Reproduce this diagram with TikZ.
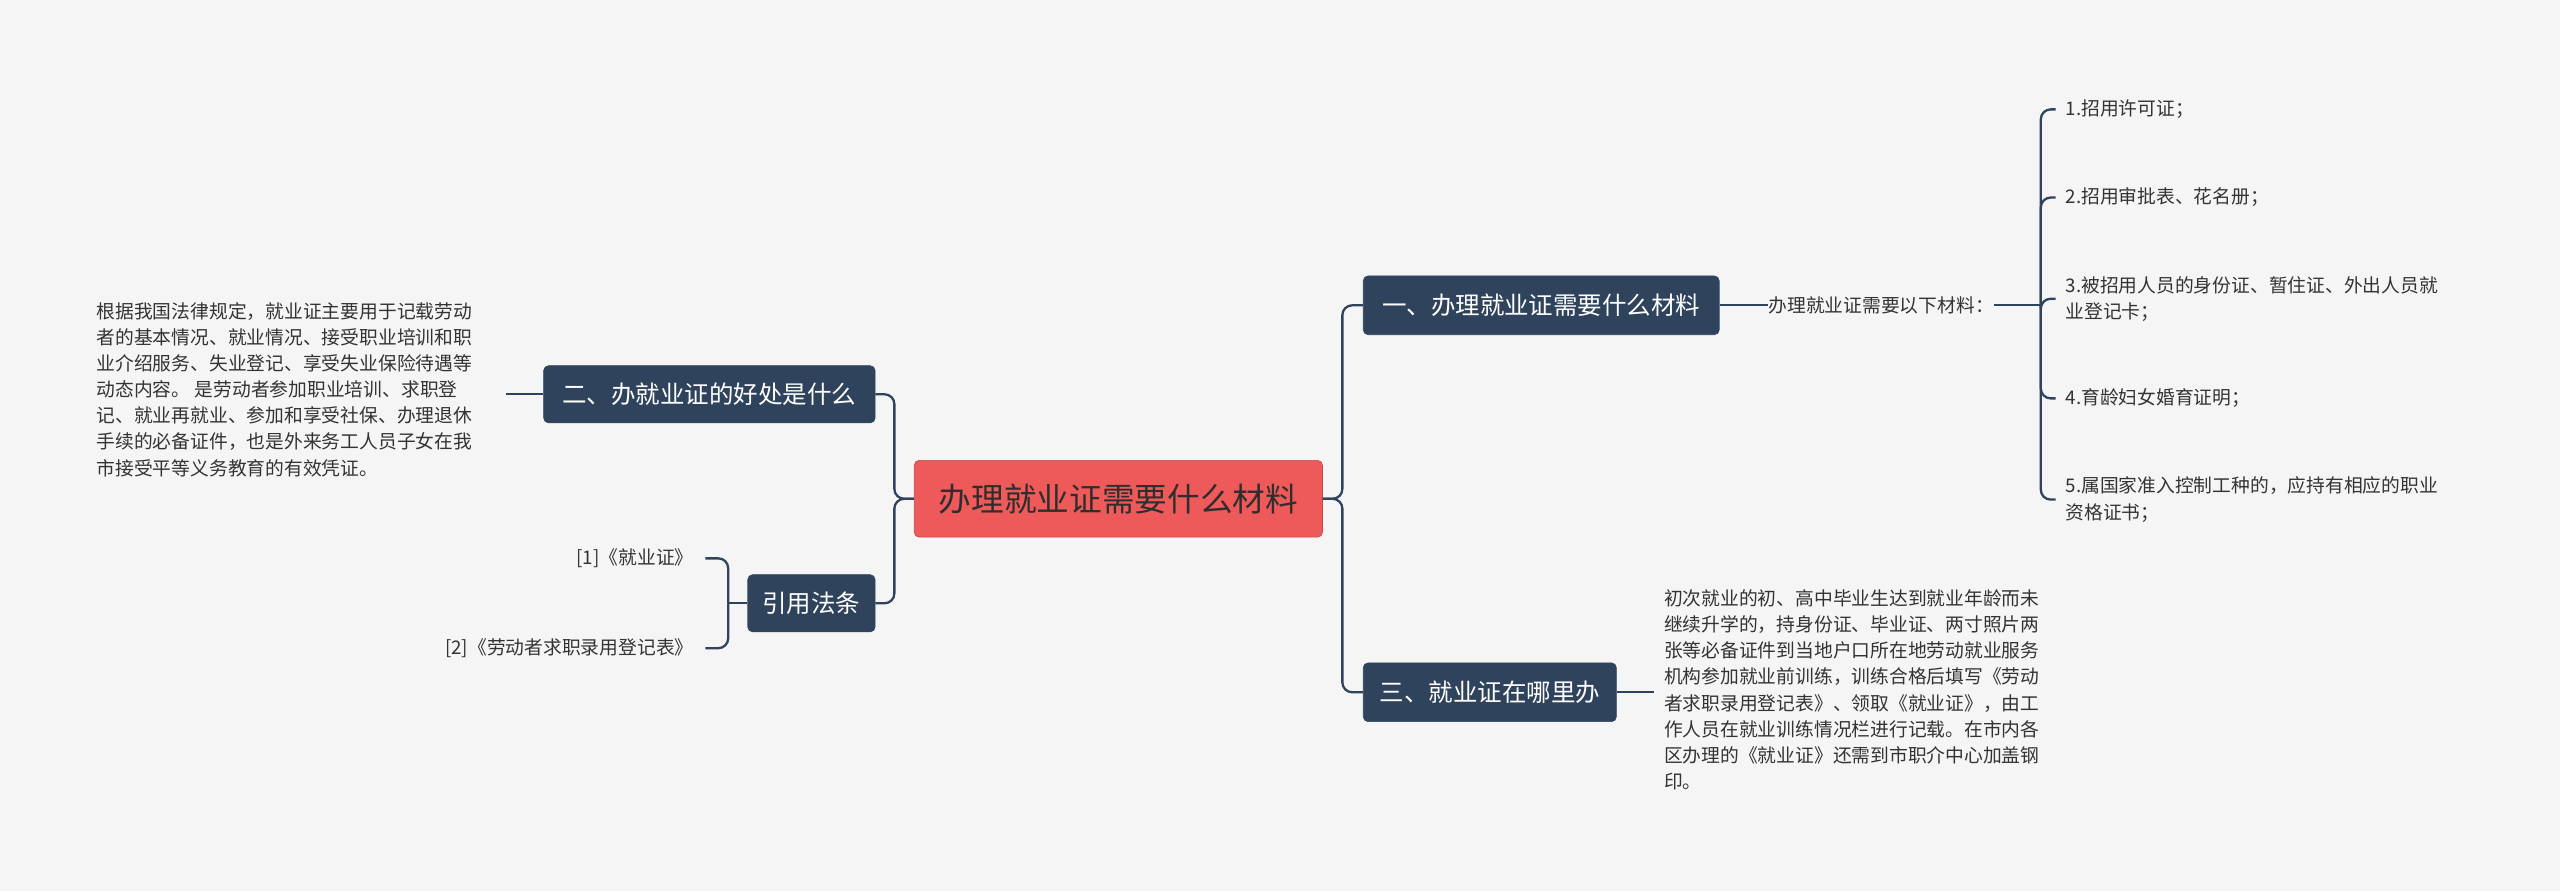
\documentclass[tikz,border=0pt]{standalone}
\usepackage{fontspec}
\setmainfont{Noto Sans CJK SC}
\definecolor{bg}{HTML}{F5F5F5}
\definecolor{dk}{HTML}{2F445C}
\definecolor{rd}{HTML}{EE5A59}
\definecolor{tx}{HTML}{333333}
\begin{document}
\begin{tikzpicture}[x=1pt,y=-1pt,
  topic/.style={draw=dk,fill=dk,rounded corners=3pt,text=white,font=\fontsize{15}{18}\selectfont,anchor=center,inner sep=0pt},
  small/.style={text=tx,font=\fontsize{11.5}{16}\selectfont,inner sep=0pt},
  ln/.style={draw=dk,line width=1.4pt,rounded corners=6pt}]
\fill[bg] (0,0) rectangle (1568,546);
\useasboundingbox (0,0) rectangle (1568,546);
\node[draw=rd!80!black,fill=rd,rounded corners=3pt,minimum width=250pt,minimum height=47pt,text=tx!90!black,font=\fontsize{20}{24}\selectfont] (c) at (685,305.5) {办理就业证需要什么材料};
\node[topic,minimum width=218pt,minimum height=36pt] (a) at (944,187) {一、办理就业证需要什么材料};
\node[topic,minimum width=203pt,minimum height=35pt] (b) at (434.5,241.5) {二、办就业证的好处是什么};
\node[topic,minimum width=78pt,minimum height=35pt] (r) at (497,369.5) {引用法条};
\node[topic,minimum width=155pt,minimum height=36pt] (d) at (912.5,424) {三、就业证在哪里办};
\draw[ln] (c.west) -- ++(-12,0) |- (b.east);
\draw[ln] (c.west) -- ++(-12,0) |- (r.east);
\draw[ln] (c.east) -- ++(12,0) |- (a.east -| a.west);
\draw[ln] (c.east) -- ++(12,0) |- (d.west);
\node[small,anchor=west] (m) at (1083,187) {办理就业证需要以下材料：};
\draw[ln] (a.east) -- (m.west);
\coordinate (br) at (1250,187);
\draw[ln] (m.east) -- (br);
\node[small,anchor=west] (i1) at (1265,67) {1.招用许可证；};
\node[small,anchor=west] (i2) at (1265,121) {2.招用审批表、花名册；};
\node[small,anchor=west,align=left] (i3) at (1265,183) {3.被招用人员的身份证、暂住证、外出人员就\\业登记卡；};
\node[small,anchor=west] (i4) at (1265,244) {4.育龄妇女婚育证明；};
\node[small,anchor=west,align=left] (i5) at (1265,306) {5.属国家准入控制工种的，应持有相应的职业\\资格证书；};
\foreach \i/\yy in {i1/67,i2/121,i3/183,i4/244,i5/306}
  \draw[ln] (br) |- (1259,\yy);
\node[small,anchor=north west,align=left] (p) at (59,185) {根据我国法律规定，就业证主要用于记载劳动\\者的基本情况、就业情况、接受职业培训和职\\业介绍服务、失业登记、享受失业保险待遇等\\动态内容。 是劳动者参加职业培训、求职登\\记、就业再就业、参加和享受社保、办理退休\\手续的必备证件，也是外来务工人员子女在我\\市接受平等义务教育的有效凭证。};
\draw[ln] (b.west) -- (310,241.5);
\node[small,anchor=east] (l1) at (425,342) {[1]《就业证》};
\node[small,anchor=east] (l2) at (425,397) {[2]《劳动者求职录用登记表》};
\coordinate (rb) at (446,369.5);
\draw[ln] (r.west) -- (rb);
\draw[ln] (rb) |- (432,342);
\draw[ln] (rb) |- (432,397);
\node[small,anchor=north west,align=left] (q) at (1019,361) {初次就业的初、高中毕业生达到就业年龄而未\\继续升学的，持身份证、毕业证、两寸照片两\\张等必备证件到当地户口所在地劳动就业服务\\机构参加就业前训练，训练合格后填写《劳动\\者求职录用登记表》、领取《就业证》，由工\\作人员在就业训练情况栏进行记载。在市内各\\区办理的《就业证》还需到市职介中心加盖钢\\印。};
\draw[ln] (d.east) -- (1013,424);
\end{tikzpicture}
\end{document}
